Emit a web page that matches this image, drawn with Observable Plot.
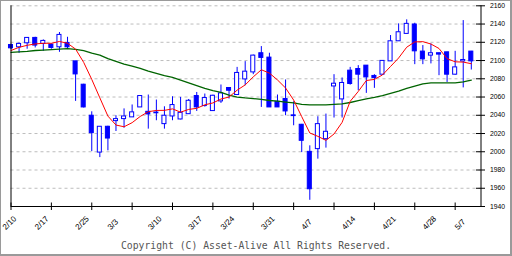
<!DOCTYPE html>
<html>
<head>
<meta charset="utf-8">
<script src="https://cdn.jsdelivr.net/npm/d3@7"></script>
<script src="https://cdn.jsdelivr.net/npm/@observablehq/plot@0.6"></script>
<style>
  html, body { margin: 0; padding: 0; background: #fff; }
  #wrap { position: relative; width: 512px; height: 256px; background: #fff; overflow: hidden; }
  #chart { position: absolute; left: 0; top: 0; }
  #caption { position: absolute; left: 0; top: 240px; width: 512px; text-align: center;
    font-family: "DejaVu Sans Mono", monospace; font-size: 9.75px; color: #555; white-space: nowrap; }
  #border { position: absolute; left: 0; top: 0; width: 512px; height: 256px; box-sizing: border-box;
    border-top: 1px solid #9a9a9a; border-left: 1px solid #9a9a9a;
    border-right: 2px solid #9a9a9a; border-bottom: 2px solid #9a9a9a; pointer-events: none; }
</style>
</head>
<body>
<div id="wrap">
  <div id="chart"></div>
  <div id="caption">Copyright (C) Asset-Alive All Rights Reserved.</div>
  <div id="border"></div>
</div>
<script>
// Daily candles (trading days 2/10 .. 5/8), index 0..57
const open = [2117, 2114.5, 2118.9, 2124.8, 2118.2, 2117.5, 2114.5, 2119.3, 2099.1, 2073.5,
  2039.5, 1999.1, 2027.4, 2033.6, 2035.8, 2037.7, 2048.6, 2043.8, 2042.2, 2030.3,
  2038.7, 2035.4, 2041.2, 2061.1, 2050.1, 2044.6, 2055.2, 2069.9, 2062.2, 2079.3,
  2087, 2108, 2103.2, 2054.8, 2057.8, 2039.9, 2029.6, 1999.9, 2002.9, 2013.8,
  2071.6, 2057.4, 2088.9, 2090.7, 2094.4, 2083.1, 2084.5, 2099.1, 2121.1, 2129.2,
  2139.5, 2109.8, 2105.4, 2108, 2109, 2084.5, 2099, 2109.8];
const high = [2118, 2119.3, 2125, 2125.5, 2122.6, 2118.2, 2130.7, 2125.5, 2099.1, 2074,
  2043.8, 2027.4, 2028, 2039.5, 2047, 2051.3, 2061.1, 2062.2, 2056.7, 2049.3,
  2060.3, 2059.6, 2057.3, 2065, 2063.3, 2062, 2073.2, 2070, 2092.5, 2098.8,
  2106, 2115.3, 2108, 2062.2, 2078.7, 2054.8, 2030, 2006.5, 2038.4, 2041.3,
  2084.5, 2080.9, 2092.5, 2094.4, 2094.5, 2084.5, 2100, 2127.4, 2140.2, 2144.6,
  2140.9, 2116.4, 2118.2, 2108, 2109, 2110.1, 2143.8, 2110];
const low = [2112, 2107.9, 2112.4, 2113.8, 2110.1, 2112.4, 2109, 2112, 2055.2, 2048,
  2000.2, 1993.6, 2001, 2022.2, 2025.8, 2037.7, 2048.6, 2024.8, 2034, 2024.8,
  2034, 2035, 2041.2, 2044.2, 2049, 2044.6, 2053, 2057.8, 2062.2, 2072.4,
  2084.5, 2048.6, 2048.6, 2048.6, 2039.5, 2028.5, 1999.1, 1946.8, 1991.9, 2004,
  2037, 2037, 2073, 2066.9, 2064, 2069.5, 2084, 2099, 2121, 2129,
  2095.5, 2095.5, 2096.3, 2083.4, 2076, 2084, 2070, 2089.6];
const close = [2113.4, 2118.2, 2124.8, 2116.4, 2121.5, 2113.8, 2128.1, 2114.5, 2084.8, 2048.6,
  2020.4, 2027.4, 2014.5, 2035.8, 2038.7, 2043.2, 2061.1, 2040.9, 2043.0, 2039.5,
  2051.2, 2042.7, 2055.9, 2048.6, 2058.9, 2061.4, 2064, 2066.9, 2086.4, 2087.8,
  2105.4, 2102.9, 2048.6, 2048.6, 2044.2, 2039.1, 2012, 1958.9, 2030.3, 2021.9,
  2074.6, 2075.4, 2074.3, 2084.5, 2081.5, 2080.9, 2099.6, 2121.1, 2131, 2140.2,
  2110.1, 2101.3, 2108, 2106.5, 2084.5, 2092.5, 2100.6, 2099.1];
// Short (red) and long (green) moving averages
const maShort = [2111.0, 2114.5, 2116.7, 2118.2, 2118.9, 2118.9, 2120.9, 2118.9, 2112.5, 2098.0,
  2079.3, 2059.1, 2039.1, 2029.3, 2027.4, 2031.9, 2038.7, 2043.9, 2045.3, 2045.4,
  2047.0, 2043.4, 2046.4, 2047.6, 2051.5, 2053.5, 2057.8, 2060.0, 2067.5, 2073.3,
  2082.1, 2089.9, 2086.2, 2078.7, 2069.9, 2056.7, 2038.5, 2020.6, 2016.9, 2012.5,
  2019.5, 2032.2, 2055.3, 2066.1, 2078.1, 2079.3, 2084.2, 2093.5, 2102.8, 2114.6,
  2120.4, 2120.7, 2118.1, 2113.2, 2102.1, 2098.6, 2098.3, 2096.5];
const maLong = [2109, 2109.5, 2110, 2111, 2111.5, 2112, 2112.5, 2113, 2112.3, 2110.9,
  2108, 2106, 2102, 2099, 2096, 2094, 2091.5, 2088.5, 2086, 2083.5,
  2081.5, 2078.5, 2075.5, 2072.5, 2069.5, 2067, 2065, 2062, 2060, 2059,
  2058.3, 2057.5, 2056.2, 2055.5, 2054.5, 2053.5, 2052, 2051.5, 2051.5, 2051.5,
  2052, 2052.5, 2054, 2056, 2058, 2059.5, 2061.5, 2064, 2066.5, 2069.5,
  2072, 2074.5, 2075.5, 2075.5, 2075.5, 2075.5, 2076.5, 2078.5];
// Axis labels
const xLabels = ["2/10", "2/17", "2/25", "3/3", "3/10", "3/17", "3/24", "3/31", "4/7", "4/14", "4/21", "4/28", "5/7"];
const xLabelIdx = [0, 4, 9, 13, 18, 23, 27, 32, 37, 42, 47, 52, 56];
const xTickIdx = [0, 5, 10, 15, 20, 25, 30, 35, 40, 45, 50, 55];
const yTicks = [1940, 1960, 1980, 2000, 2020, 2040, 2060, 2080, 2100, 2120, 2140, 2160];
const gridVals = [1960, 1980, 2000, 2020, 2040, 2060, 2080, 2100, 2120, 2140, 2160];

const X_END = 58.2;      // right edge of plot frame in candle units
const BODY = 0.25;       // half body width in candle units
const rows = open.map((o, i) => ({i, o, h: high[i], l: low[i], c: close[i]}));
const up = rows.filter(d => d.c >= d.o);
const down = rows.filter(d => d.c < d.o);
const idx = rows.map(d => d.i);
const FONT = "'Liberation Sans', Arial, sans-serif";
const BLUE = "#0000ff";

const chart = Plot.plot({
  width: 512,
  height: 236,
  marginTop: 5, marginBottom: 30, marginLeft: 10, marginRight: 31,
  x: {type: "linear", domain: [0, X_END], range: [10.5, 480.5], axis: null},
  y: {type: "linear", domain: [1940, 2160], range: [206, 5.3], axis: null},
  style: {background: "transparent", overflow: "visible"},
  marks: [
    Plot.ruleY(gridVals, {x1: 0, x2: X_END, stroke: "#bdbdbd", strokeDasharray: "3,3"}),
    Plot.ruleX(rows, {x: "i", y1: "l", y2: "h", stroke: BLUE, strokeWidth: 1}),
    Plot.rect(up, {x1: d => d.i - BODY, x2: d => d.i + BODY, y1: "o", y2: "c", fill: "#ffffff", stroke: BLUE, strokeWidth: 1}),
    Plot.rect(down, {x1: d => d.i - BODY, x2: d => d.i + BODY, y1: "o", y2: "c", fill: BLUE, stroke: BLUE, strokeWidth: 1}),
    Plot.line(idx, {x: d => d, y: d => maLong[d], stroke: "#006400", strokeWidth: 1.3}),
    Plot.line(idx, {x: d => d, y: d => maShort[d], stroke: "#ff0000", strokeWidth: 1}),
    // frame
    Plot.ruleX([0, X_END], {y1: 1940, y2: 2160, stroke: "#000"}),
    Plot.ruleY([1940], {x1: 0, x2: X_END, stroke: "#000"}),
    Plot.ruleX(xTickIdx, {x: d => d, y1: 1940, y2: 1940, insetTop: -3.5, insetBottom: -4, stroke: "#000"}),
    Plot.ruleY(yTicks, {y: d => d, x1: X_END, x2: X_END, insetLeft: -4.5, insetRight: -4.5, stroke: "#000"}),
    Plot.text(yTicks, {x: X_END, y: d => d, text: d => String(d), dx: 9, textAnchor: "start",
      fontSize: 6.8, fontFamily: FONT, fill: "#000"}),
    Plot.text(xLabelIdx, {x: d => d, y: 1940, text: (d, i) => xLabels[i], rotate: -45, textAnchor: "start",
      dx: -7, dy: 22, fontSize: 8, fontFamily: FONT, fill: "#000"})
  ]
});
document.getElementById("chart").appendChild(chart);
</script>
</body>
</html>
